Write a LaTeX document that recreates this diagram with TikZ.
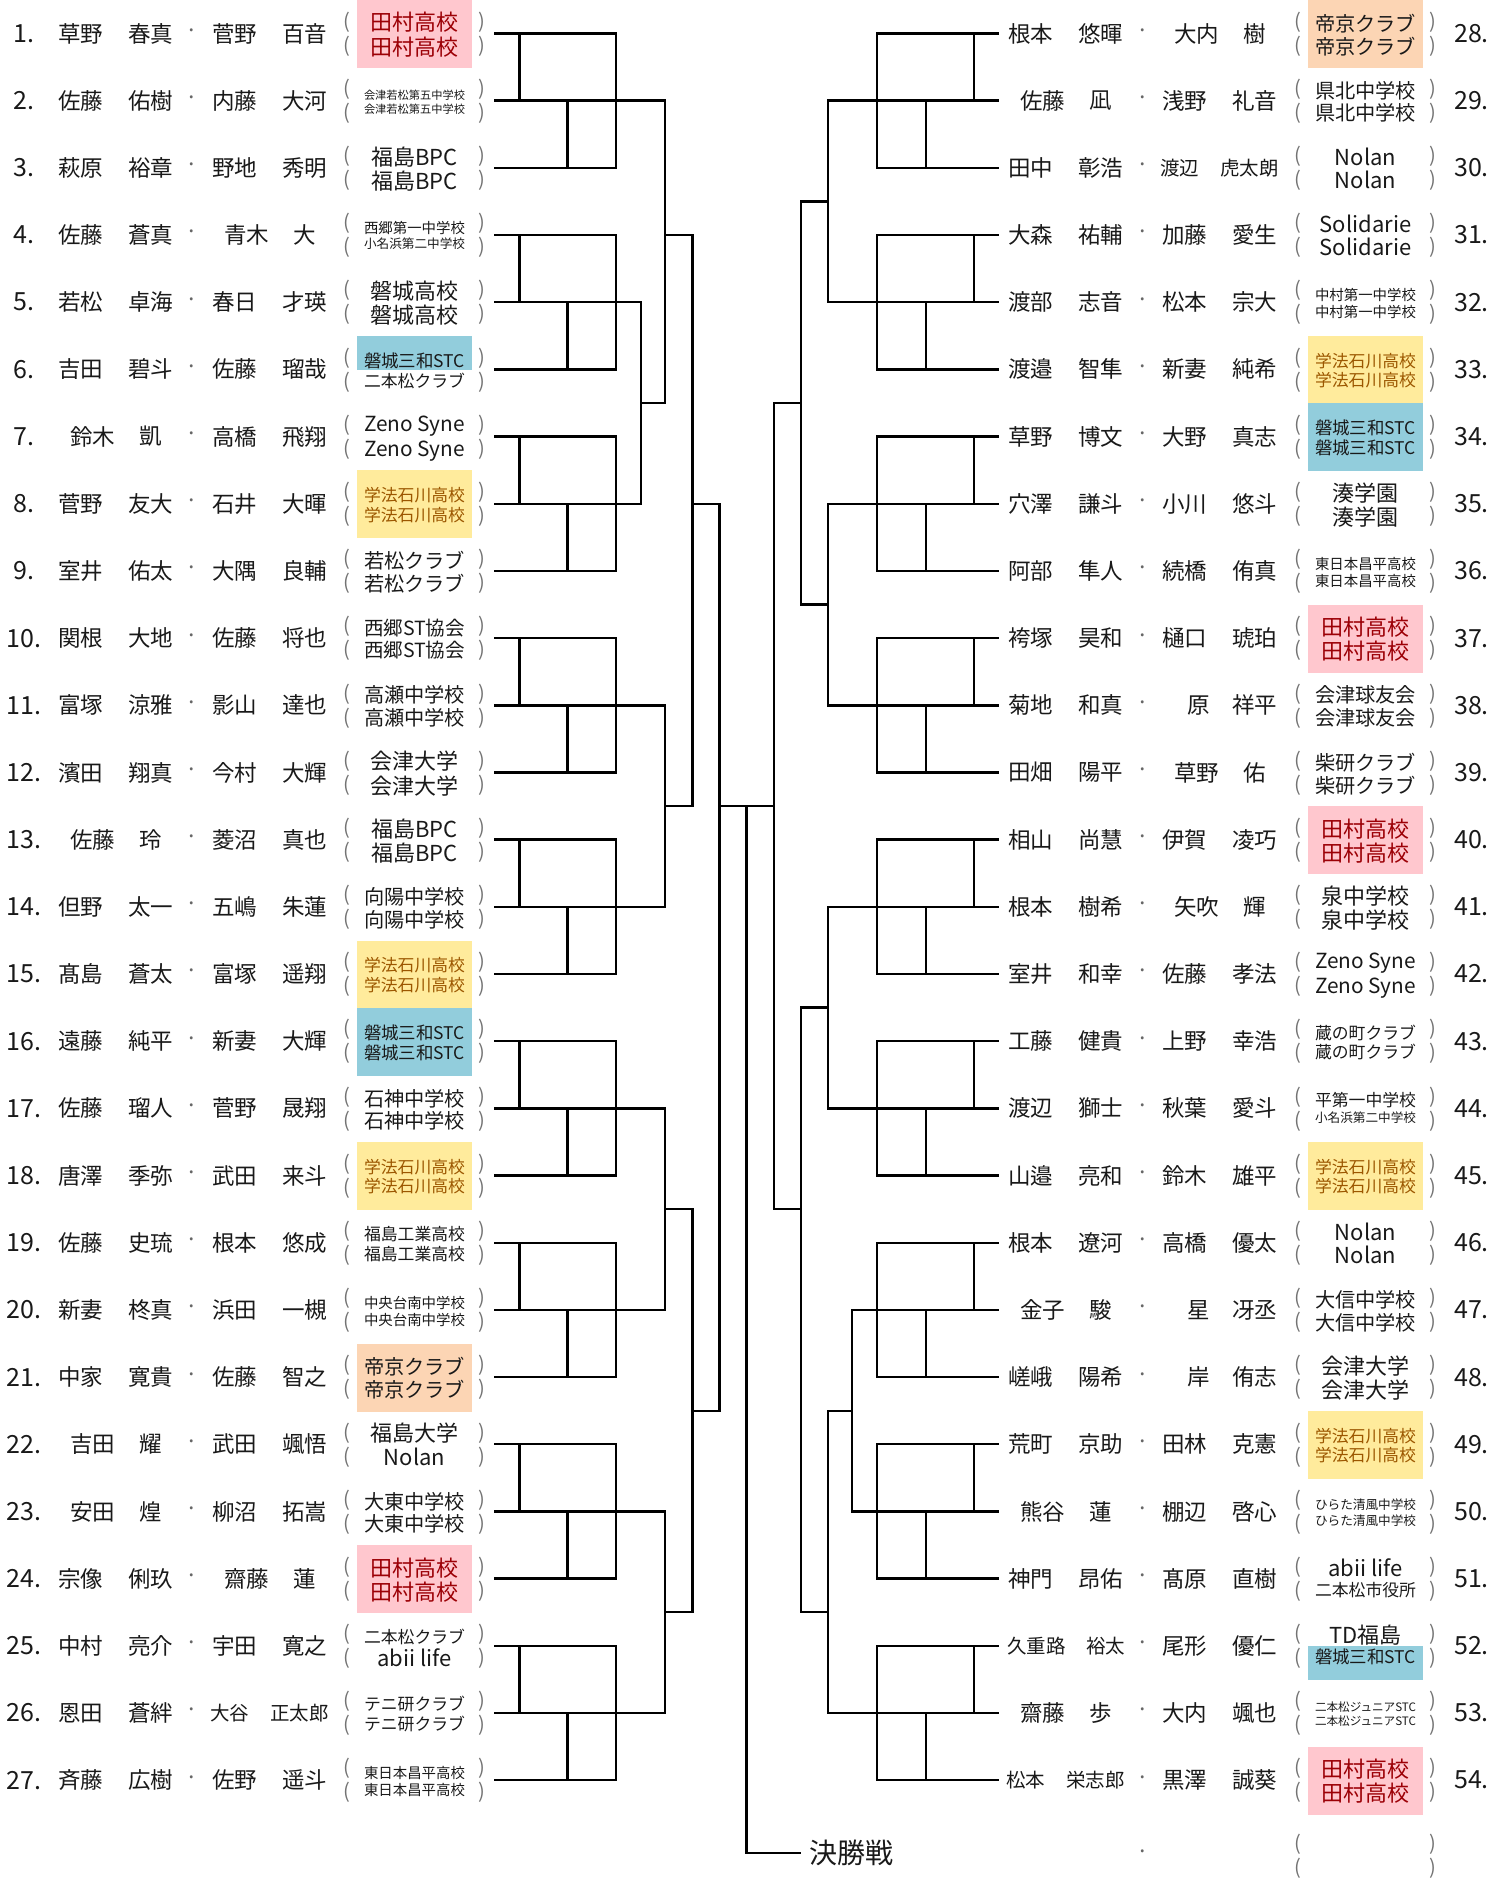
\documentclass[tikz,border=0pt]{standalone}
\usepackage{fontspec}
\usepackage{graphicx}
\usepackage{xcolor}
\setmainfont{Noto Sans CJK JP}

\definecolor{pkbg}{HTML}{FFC7CE}
\definecolor{pkfg}{HTML}{9C0006}
\definecolor{yebg}{HTML}{FFEB9C}
\definecolor{yefg}{HTML}{9C5700}
\definecolor{pebg}{HTML}{FCD5B4}
\definecolor{blbg}{HTML}{92CDDC}

\newcommand{\nmfont}{\fontsize{22.5}{26}\selectfont}
\newcommand{\nmsfont}{\fontsize{19.5}{23}\selectfont}
\font\nmraw="Noto Sans CJK JP" at 22.5pt
\newcommand{\cy}[1]{33.5+(#1-1)*67.18}

% club names shrink to the cell width
\newsavebox\clubbox
\newcommand{\fitw}[1]{\sbox\clubbox{\vphantom{国}#1}%
  \ifdim\wd\clubbox>101pt\resizebox{101pt}{!}{\usebox\clubbox}\else\usebox\clubbox\fi}

% surname and given name of one player
\newlength\nmw
\newcommand{\duo}[4]{%
  \settowidth\nmw{\nmraw #4}\def\sx{0}\def\gx{0}\let\nf\nmfont
  \ifdim\nmw<30pt \def\sx{12}\fi
  \ifdim\nmw>50pt \def\sx{-5}\def\gx{-5}\let\nf\nmsfont\fi
  \settowidth\nmw{\nmraw #3}%
  \ifdim\nmw<30pt \def\sx{14}\fi
  \ifdim\nmw>50pt \def\sx{6}\def\gx{5}\let\nf\nmsfont\fi
  \node[nm, font=\nf] (#1s) at ({#2+\sx},\yc) {#3};
  \node[nm, font=\nf] (#1g) at ({#2+70+\gx},\yc) {#4};}

% the two club lines in brackets
\newcommand{\club}[6]{%
  \path[bg-#4] ({#2-57.5},{\yc-33.5}) rectangle ({#2+57.5},{\yc+0.5});
  \path[bg-#6] ({#2-57.5},{\yc+0.5}) rectangle ({#2+57.5},{\yc+34.5});
  \node[sch, fg-#4, anchor=south] (#1t) at (#2,{\yc-0.5}) {\fitw{#3}};
  \node[sch, fg-#6, anchor=north] (#1u) at (#2,{\yc+3}) {\fitw{#5}};
  \node[par] (#1pa) at ({#2-67.5},{\yc-11.5}) {(};
  \node[par] (#1pb) at ({#2+67.5},{\yc-11.5}) {)};
  \node[par] (#1pc) at ({#2-67.5},{\yc+12.5}) {(};
  \node[par] (#1pd) at ({#2+67.5},{\yc+12.5}) {)};}

\newcommand{\lrow}[9]{%
  \pgfmathsetmacro\yc{\cy{#1}}
  \node[num] (nl#1) at (24,\yc) {#1.};
  \duo{l#1a}{80.5}{#2}{#3}
  \node[dot] (dl#1) at (192,\yc) {·};
  \duo{l#1b}{234.5}{#4}{#5}
  \club{cl#1}{414.5}{#6}{#7}{#8}{#9}}

\newcommand{\rrow}[9]{%
  \pgfmathsetmacro\yc{\cy{#1}}
  \node[num] (nr#1) at (1471.5,\yc) {\the\numexpr#1+27\relax.};
  \duo{r#1a}{1030.5}{#2}{#3}
  \node[dot] (dr#1) at (1142.7,\yc) {·};
  \duo{r#1b}{1184.5}{#4}{#5}
  \club{cr#1}{1365.5}{#6}{#7}{#8}{#9}}

\begin{document}
\begin{tikzpicture}[x=1pt, y=-1pt,
    bk/.style={line width=2.4pt, line cap=rect},
    nm/.style={inner sep=0, text=black!90},
    num/.style={inner sep=0, text=black!90, font=\fontsize{25}{28}\selectfont},
    dot/.style={inner sep=0, text=black!60, font=\nmfont},
    sch/.style={inner sep=0, font=\fontsize{22}{26}\selectfont},
    par/.style={inner sep=0, text=black!55, font=\fontsize{20}{24}\selectfont},
    bg-no/.style={}, bg-pk/.style={fill=pkbg}, bg-ye/.style={fill=yebg},
    bg-pe/.style={fill=pebg}, bg-bl/.style={fill=blbg},
    fg-no/.style={text=black!90}, fg-pk/.style={text=pkfg}, fg-ye/.style={text=yefg},
    fg-pe/.style={text=black!90}, fg-bl/.style={text=black!90}]
\useasboundingbox (0,0) rectangle (1507,1885);

% Rows (half steps)
\foreach \k in {2,...,56}
  \coordinate (Y\k) at (0,{33.5+(\k/2-1)*67.18});

% Columns
\coordinate (la) at (495,0);   \coordinate (ra) at (998.2,0);
\coordinate (lb) at (519.3,0); \coordinate (rb) at (973.9,0);
\coordinate (lc) at (567.3,0); \coordinate (rc) at (925.9,0);
\coordinate (ld) at (616,0);   \coordinate (rd) at (877.2,0);
\coordinate (le) at (641,0);   \coordinate (re) at (852.2,0);
\coordinate (lf) at (665,0);   \coordinate (rf) at (828.2,0);
\coordinate (lg) at (692.3,0); \coordinate (rg) at (800.9,0);
\coordinate (lh) at (719.3,0); \coordinate (rh) at (773.9,0);
\coordinate (fin) at (746.6,0);

% Left entries
\lrow{1}{草野}{春真}{菅野}{百音}{田村高校}{pk}{田村高校}{pk}
\lrow{2}{佐藤}{佑樹}{内藤}{大河}{会津若松第五中学校}{no}{会津若松第五中学校}{no}
\lrow{3}{萩原}{裕章}{野地}{秀明}{福島BPC}{no}{福島BPC}{no}
\lrow{4}{佐藤}{蒼真}{青木}{大}{西郷第一中学校}{no}{小名浜第二中学校}{no}
\lrow{5}{若松}{卓海}{春日}{才瑛}{磐城高校}{no}{磐城高校}{no}
\lrow{6}{吉田}{碧斗}{佐藤}{瑠哉}{磐城三和STC}{bl}{二本松クラブ}{no}
\lrow{7}{鈴木}{凱}{高橋}{飛翔}{Zeno Syne}{no}{Zeno Syne}{no}
\lrow{8}{菅野}{友大}{石井}{大暉}{学法石川高校}{ye}{学法石川高校}{ye}
\lrow{9}{室井}{佑太}{大隅}{良輔}{若松クラブ}{no}{若松クラブ}{no}
\lrow{10}{関根}{大地}{佐藤}{将也}{西郷ST協会}{no}{西郷ST協会}{no}
\lrow{11}{富塚}{涼雅}{影山}{達也}{高瀬中学校}{no}{高瀬中学校}{no}
\lrow{12}{濱田}{翔真}{今村}{大輝}{会津大学}{no}{会津大学}{no}
\lrow{13}{佐藤}{玲}{菱沼}{真也}{福島BPC}{no}{福島BPC}{no}
\lrow{14}{但野}{太一}{五嶋}{朱蓮}{向陽中学校}{no}{向陽中学校}{no}
\lrow{15}{髙島}{蒼太}{富塚}{遥翔}{学法石川高校}{ye}{学法石川高校}{ye}
\lrow{16}{遠藤}{純平}{新妻}{大輝}{磐城三和STC}{bl}{磐城三和STC}{bl}
\lrow{17}{佐藤}{瑠人}{菅野}{晟翔}{石神中学校}{no}{石神中学校}{no}
\lrow{18}{唐澤}{季弥}{武田}{来斗}{学法石川高校}{ye}{学法石川高校}{ye}
\lrow{19}{佐藤}{史琉}{根本}{悠成}{福島工業高校}{no}{福島工業高校}{no}
\lrow{20}{新妻}{柊真}{浜田}{一槻}{中央台南中学校}{no}{中央台南中学校}{no}
\lrow{21}{中家}{寛貴}{佐藤}{智之}{帝京クラブ}{pe}{帝京クラブ}{pe}
\lrow{22}{吉田}{耀}{武田}{颯悟}{福島大学}{no}{Nolan}{no}
\lrow{23}{安田}{煌}{柳沼}{拓嵩}{大東中学校}{no}{大東中学校}{no}
\lrow{24}{宗像}{俐玖}{齋藤}{蓮}{田村高校}{pk}{田村高校}{pk}
\lrow{25}{中村}{亮介}{宇田}{寛之}{二本松クラブ}{no}{abii life}{no}
\lrow{26}{恩田}{蒼絆}{大谷}{正太郎}{テニ研クラブ}{no}{テニ研クラブ}{no}
\lrow{27}{斉藤}{広樹}{佐野}{遥斗}{東日本昌平高校}{no}{東日本昌平高校}{no}

% Right entries
\rrow{1}{根本}{悠暉}{大内}{樹}{帝京クラブ}{pe}{帝京クラブ}{pe}
\rrow{2}{佐藤}{凪}{浅野}{礼音}{県北中学校}{no}{県北中学校}{no}
\rrow{3}{田中}{彰浩}{渡辺}{虎太朗}{Nolan}{no}{Nolan}{no}
\rrow{4}{大森}{祐輔}{加藤}{愛生}{Solidarie}{no}{Solidarie}{no}
\rrow{5}{渡部}{志音}{松本}{宗大}{中村第一中学校}{no}{中村第一中学校}{no}
\rrow{6}{渡邉}{智隼}{新妻}{純希}{学法石川高校}{ye}{学法石川高校}{ye}
\rrow{7}{草野}{博文}{大野}{真志}{磐城三和STC}{bl}{磐城三和STC}{bl}
\rrow{8}{穴澤}{謙斗}{小川}{悠斗}{湊学園}{no}{湊学園}{no}
\rrow{9}{阿部}{隼人}{続橋}{侑真}{東日本昌平高校}{no}{東日本昌平高校}{no}
\rrow{10}{袴塚}{昊和}{樋口}{琥珀}{田村高校}{pk}{田村高校}{pk}
\rrow{11}{菊地}{和真}{原}{祥平}{会津球友会}{no}{会津球友会}{no}
\rrow{12}{田畑}{陽平}{草野}{佑}{柴研クラブ}{no}{柴研クラブ}{no}
\rrow{13}{相山}{尚慧}{伊賀}{凌巧}{田村高校}{pk}{田村高校}{pk}
\rrow{14}{根本}{樹希}{矢吹}{輝}{泉中学校}{no}{泉中学校}{no}
\rrow{15}{室井}{和幸}{佐藤}{孝法}{Zeno Syne}{no}{Zeno Syne}{no}
\rrow{16}{工藤}{健貴}{上野}{幸浩}{蔵の町クラブ}{no}{蔵の町クラブ}{no}
\rrow{17}{渡辺}{獅士}{秋葉}{愛斗}{平第一中学校}{no}{小名浜第二中学校}{no}
\rrow{18}{山邉}{亮和}{鈴木}{雄平}{学法石川高校}{ye}{学法石川高校}{ye}
\rrow{19}{根本}{遼河}{高橋}{優太}{Nolan}{no}{Nolan}{no}
\rrow{20}{金子}{駿}{星}{冴丞}{大信中学校}{no}{大信中学校}{no}
\rrow{21}{嵯峨}{陽希}{岸}{侑志}{会津大学}{no}{会津大学}{no}
\rrow{22}{荒町}{京助}{田林}{克憲}{学法石川高校}{ye}{学法石川高校}{ye}
\rrow{23}{熊谷}{蓮}{棚辺}{啓心}{ひらた清風中学校}{no}{ひらた清風中学校}{no}
\rrow{24}{神門}{昂佑}{髙原}{直樹}{abii life}{no}{二本松市役所}{no}
\rrow{25}{久重路}{裕太}{尾形}{優仁}{TD福島}{no}{磐城三和STC}{bl}
\rrow{26}{齋藤}{歩}{大内}{颯也}{二本松ジュニアSTC}{no}{二本松ジュニアSTC}{no}
\rrow{27}{松本}{栄志郎}{黒澤}{誠葵}{田村高校}{pk}{田村高校}{pk}

% Empty last line
\node[dot] (dr28) at (1142.7,1855) {·};
\node[par] (cr28pa) at (1298,1844.5) {(};
\node[par] (cr28pb) at (1433,1844.5) {)};
\node[par] (cr28pc) at (1298,1868.5) {(};
\node[par] (cr28pd) at (1433,1868.5) {)};

% Groups of three, left
\foreach \t/\e in {1/lf,4/le,7/le,10/lf,13/lf,16/lf,19/lf,22/lf,25/lf}{
  \pgfmathtruncatemacro\ka{2*\t}
  \pgfmathtruncatemacro\kb{2*\t+2}
  \pgfmathtruncatemacro\kc{2*\t+4}
  \draw[bk] (la |- Y\ka) -- (ld |- Y\ka) -- (ld |- Y\kc) -- (la |- Y\kc);
  \draw[bk] (lb |- Y\ka) -- (lb |- Y\kb);
  \draw[bk] (lc |- Y\kb) -- (lc |- Y\kc);
  \draw[bk] (la |- Y\kb) -- (\e |- Y\kb);
}

% Groups of three, right
\foreach \t/\e in {1/rf,4/rf,7/rf,10/rf,13/rf,16/rf,19/re,22/re,25/rf}{
  \pgfmathtruncatemacro\ka{2*\t}
  \pgfmathtruncatemacro\kb{2*\t+2}
  \pgfmathtruncatemacro\kc{2*\t+4}
  \draw[bk] (ra |- Y\ka) -- (rd |- Y\ka) -- (rd |- Y\kc) -- (ra |- Y\kc);
  \draw[bk] (rb |- Y\ka) -- (rb |- Y\kb);
  \draw[bk] (rc |- Y\kb) -- (rc |- Y\kc);
  \draw[bk] (ra |- Y\kb) -- (\e |- Y\kb);
}

% Knockout, left
\draw[bk] (le |- Y10) -- (le |- Y16);  \draw[bk] (le |- Y13) -- (lf |- Y13);
\draw[bk] (lf |- Y4) -- (lf |- Y13);   \draw[bk] (lf |- Y8) -- (lg |- Y8);
\draw[bk] (lf |- Y22) -- (lf |- Y28);  \draw[bk] (lf |- Y25) -- (lg |- Y25);
\draw[bk] (lg |- Y8) -- (lg |- Y25);   \draw[bk] (lg |- Y16) -- (lh |- Y16);
\draw[bk] (lf |- Y34) -- (lf |- Y40);  \draw[bk] (lf |- Y37) -- (lg |- Y37);
\draw[bk] (lf |- Y46) -- (lf |- Y52);  \draw[bk] (lf |- Y49) -- (lg |- Y49);
\draw[bk] (lg |- Y37) -- (lg |- Y49);  \draw[bk] (lg |- Y43) -- (lh |- Y43);
\draw[bk] (lh |- Y16) -- (lh |- Y43);

% Knockout, right
\draw[bk] (rf |- Y4) -- (rf |- Y10);   \draw[bk] (rf |- Y7) -- (rg |- Y7);
\draw[bk] (rf |- Y16) -- (rf |- Y22);  \draw[bk] (rf |- Y19) -- (rg |- Y19);
\draw[bk] (rg |- Y7) -- (rg |- Y19);   \draw[bk] (rg |- Y13) -- (rh |- Y13);
\draw[bk] (rf |- Y28) -- (rf |- Y34);  \draw[bk] (rf |- Y31) -- (rg |- Y31);
\draw[bk] (re |- Y40) -- (re |- Y46);  \draw[bk] (re |- Y43) -- (rf |- Y43);
\draw[bk] (rf |- Y43) -- (rf |- Y52);  \draw[bk] (rf |- Y49) -- (rg |- Y49);
\draw[bk] (rg |- Y31) -- (rg |- Y49);  \draw[bk] (rg |- Y37) -- (rh |- Y37);
\draw[bk] (rh |- Y13) -- (rh |- Y37);

% Final
\node[anchor=west, inner xsep=9pt, inner ysep=0, text=black!90,
  font=\fontsize{28}{32}\selectfont] (final) at (800,1853) {決勝戦};
\draw[bk] (lh |- Y25) -- (rh |- Y25);
\draw[bk] (fin |- Y25) |- (final.west);
\end{tikzpicture}
\end{document}
